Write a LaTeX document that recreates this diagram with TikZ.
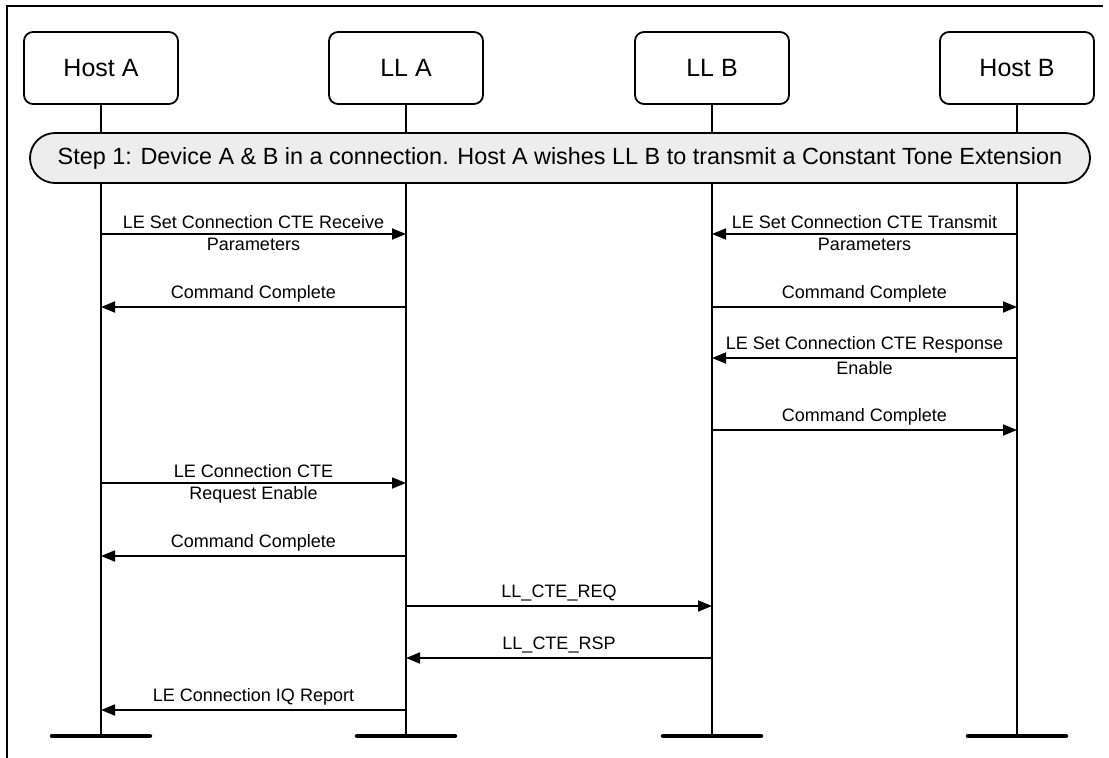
\documentclass[tikz,border=0pt]{standalone}
\usepackage{fontspec}
\setmainfont{Liberation Sans}
\usetikzlibrary{arrows.meta,positioning}

\begin{document}
\begin{tikzpicture}[
    x=1pt, y=-1pt,
    every node/.style={font=\fontsize{18}{21}\selectfont},
    entity/.style={draw, line width=1.8pt, rounded corners=9pt, minimum width=154pt, minimum height=72pt, font=\fontsize{25}{28}\selectfont},
    stepbar/.style={draw, line width=1.8pt, fill=gray!14, rounded corners=25pt, minimum width=1060pt, minimum height=50pt, font=\fontsize{23.4}{28}\selectfont},
    lifeline/.style={line width=1.8pt},
    msg/.style={line width=1.8pt, -{Triangle[length=14pt,width=11pt]}},
    endbar/.style={line width=4.5pt, line cap=round}
]
\useasboundingbox (0,0) rectangle (1109,758);

% frame
\draw[line width=1.8pt] (7,758) -- (7,6) -- (1103,6);

% entities
\node[entity] (hosta) at (101,68) {Host A};
\node[entity] (lla) at (406,68) {LL A};
\node[entity] (llb) at (712,68) {LL B};
\node[entity] (hostb) at (1017,68) {Host B};

% lifelines and end bars
\foreach \e in {hosta,lla,llb,hostb} {
    \coordinate (\e_end) at (\e |- 0,736);
    \draw[lifeline] (\e.south) -- (\e_end);
    \draw[endbar] ([xshift=-49pt]\e_end) -- ([xshift=49pt]\e_end);
}

\node[stepbar] (step1) at (560,158) {Step 1: Device A \& B in a connection. Host A wishes LL B to transmit a Constant Tone Extension};

% message rows
\foreach \n/\y in {m1/234,m2/307,m3/358,m4/430,m5/483,m6/556,m7/606,m8/658,m9/710}
    \coordinate (\n) at (0,\y);

\draw[msg] (hosta |- m1) -- node[above, inner sep=4pt] {LE Set Connection CTE Receive} node[below, inner sep=3pt] {Parameters} (lla |- m1);
\draw[msg] (lla |- m2) -- node[above, inner sep=4pt] {Command Complete} (hosta |- m2);
\draw[msg] (hostb |- m1) -- node[above, inner sep=4pt] {LE Set Connection CTE Transmit} node[below, inner sep=3pt] {Parameters} (llb |- m1);
\draw[msg] (llb |- m2) -- node[above, inner sep=4pt] {Command Complete} (hostb |- m2);
\draw[msg] (hostb |- m3) -- node[above, inner sep=4pt] {LE Set Connection CTE Response} node[below, inner sep=3pt] {Enable} (llb |- m3);
\draw[msg] (llb |- m4) -- node[above, inner sep=4pt] {Command Complete} (hostb |- m4);
\draw[msg] (hosta |- m5) -- node[above, inner sep=4pt] {LE Connection CTE} node[below, inner sep=3pt] {Request Enable} (lla |- m5);
\draw[msg] (lla |- m6) -- node[above, inner sep=4pt] {Command Complete} (hosta |- m6);
\draw[msg] (lla |- m7) -- node[above, inner sep=4pt] {LL\_CTE\_REQ} (llb |- m7);
\draw[msg] (llb |- m8) -- node[above, inner sep=4pt] {LL\_CTE\_RSP} (lla |- m8);
\draw[msg] (lla |- m9) -- node[above, inner sep=4pt] {LE Connection IQ Report} (hosta |- m9);

\end{tikzpicture}
\end{document}
